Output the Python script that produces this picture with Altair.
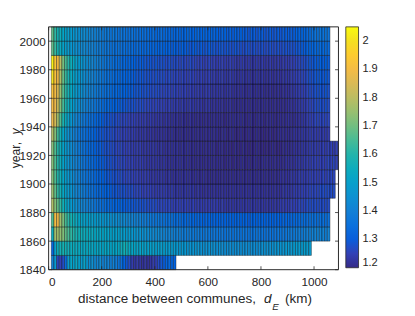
import altair as alt
import pandas as pd

# ---------------- data (values in hundredths) ----------------
YEARS = [1840, 1850, 1860, 1870, 1880, 1890, 1900, 1910, 1920,
         1930, 1940, 1950, 1960, 1970, 1980, 1990, 2000]

R1840 = [140,148,126,125,127,134,148,152,150,153,
         150,148,151,147,144,145,143,142,144,141,
         142,141,140,141,139,137,134,131,129,127,
         124,123,124,123,122,123,122,123,124,125,
         127,129,130,132,133,132,131]
R1850 = [132,150,156,157,158,157,156,155,155,154,
         154,153,153,154,153,153,152,153,152,152,
         153,152,152,152,152,153,155,157,156,153,
         152,152,151,151,151,150,150,150,150,149,
         149,149,149,148,148,148,148,147,147,147,
         147,146,146,146,146,146,145,145,145,145,
         145,145,144,145,144,144,144,144,144,144,
         144,144,144,144,144,144,144,144,144,145,
         145,145,145,145,146,146,146,146,147,147,
         147,148,148,148,148,149,148,148]
R1860 = [155,176,176,174,172,168,165,162,160,158,
         157,156,155,155,154,154,153,153,152,152,
         152,151,151,150,150,150,149,149,148,148,
         147,147,146,146,145,145,144,144,143,143,
         143,142,142,141,141,141,140,140,140,139,
         139,139,139,138,138,138,138,137,138,137,
         137,137,137,137,137,136,137,137,136,137,
         136,136,137,136,136,136,136,137,136,136,
         136,136,136,136,136,137,137,137,137,138,
         138,138,139,139,139,140,140,140,141,141,
         141,141,141,140,141]
R1870 = [166,190,188,176,171,165,161,158,156,154,
         152,151,150,150,149,149,148,148,147,147,
         146,146,145,145,144,144,143,143,142,142,
         141,141,140,140,139,139,138,138,137,137,
         137,136,136,135,135,135,134,134,134,133,
         133,133,133,132,132,132,132,131,132,131,
         131,131,131,131,131,131,131,131,131,131,
         131,131,131,131,130,131,131,131,131,131,
         131,131,131,131,131,131,131,132,132,132,
         132,133,133,133,134,134,134,135,135,135,
         135,135,135,135,135]
R1880 = [178,172,168,162,157,153,150,148,146,145,
         143,142,141,140,139,138,137,136,135,135,
         134,133,133,132,132,131,131,130,130,130,
         129,129,129,128,128,128,127,127,127,127,
         126,126,126,126,126,125,125,125,125,125,
         125,125,124,125,124,124,124,124,124,124,
         124,124,124,123,124,123,123,123,123,123,
         123,123,123,123,123,123,123,123,123,123,
         123,123,123,123,123,123,124,124,124,124,
         125,125,125,126,126,126,127,127,127,127,
         127,127,127,127,127]
R1890 = [175,168,162,157,153,150,148,146,144,142,
         141,140,138,137,136,135,134,133,133,132,
         131,131,130,129,129,128,128,128,127,127,
         127,126,126,126,125,125,125,125,124,124,
         124,124,124,124,123,124,123,123,123,123,
         123,123,123,123,122,123,122,122,122,122,
         122,122,122,122,122,122,122,122,122,122,
         122,122,122,122,122,122,122,122,122,122,
         122,122,122,122,122,122,122,123,123,123,
         123,124,124,124,125,125,125,126,126,126,
         126,127,127,127,127,127,127]
R1900 = [172,166,160,156,152,149,147,145,143,141,
         140,138,137,136,135,134,133,132,131,131,
         130,129,129,128,128,127,127,126,126,126,
         125,125,125,124,124,124,124,123,123,123,
         123,123,123,122,123,122,122,122,122,122,
         122,122,122,121,122,121,121,122,121,121,
         121,121,121,121,121,121,121,121,121,121,
         121,121,121,121,121,121,121,121,121,121,
         121,121,121,121,121,121,122,122,122,122,
         123,123,123,124,124,124,124,125,125,125,
         125,125,126,125,126,126,126]
R1910 = [172,166,160,155,151,148,146,144,142,141,
         139,138,136,135,134,133,132,131,130,130,
         129,128,128,127,127,126,126,126,125,125,
         125,124,124,124,124,123,123,123,123,123,
         123,122,123,122,122,122,122,122,122,122,
         121,122,121,121,121,121,121,121,121,121,
         121,121,121,121,121,120,121,121,120,121,
         120,121,121,120,121,120,121,121,120,121,
         121,121,121,121,121,121,121,121,122,122,
         122,122,123,123,123,124,124,124,125,125,
         125,125,125,125,126,125,126,125]
R1920 = [172,166,160,155,151,148,146,144,142,140,
         138,137,135,134,133,132,131,130,130,129,
         128,128,127,127,126,126,126,125,125,125,
         124,124,124,124,123,123,123,123,123,123,
         122,123,122,122,122,122,122,122,121,122,
         121,122,121,121,121,121,121,121,121,121,
         121,121,120,121,121,120,121,120,120,121,
         120,120,121,120,120,120,120,121,120,120,
         120,120,120,121,120,120,120,121,121,121,
         121,122,122,122,123,123,123,124,124,124,
         124,124,125,124,125,125,124,125]
R1930 = [178,172,164,157,152,148,145,143,141,139,
         137,136,135,134,133,132,131,130,129,129,
         128,128,127,127,126,126,125,125,125,124,
         124,124,123,123,123,123,122,123,122,122,
         122,122,122,122,121,122,121,121,121,121,
         121,121,121,121,121,121,121,121,121,121,
         121,121,121,120,121,121,120,121,121,120,
         120,121,120,120,121,120,120,121,120,120,
         120,120,121,120,120,121,121,121,121,121,
         121,122,122,122,123,123,123,124,124,124,
         124,124,124,124,124]
R1940 = [188,184,176,166,159,154,150,147,144,142,
         140,139,137,136,135,134,133,132,131,130,
         129,129,128,128,127,127,126,126,126,125,
         125,125,124,124,124,124,123,124,123,123,
         123,123,122,123,122,122,122,122,121,122,
         121,121,122,121,121,121,121,121,121,121,
         121,121,121,121,121,120,121,121,121,121,
         121,121,121,120,121,121,120,121,121,121,
         120,121,121,121,120,121,121,121,121,122,
         121,121,122,122,123,123,124,125,125,126,
         126,126,126,126,126]
R1950 = [190,188,182,172,165,159,155,151,148,146,
         144,143,141,140,139,138,137,136,135,134,
         133,133,132,131,131,130,130,129,129,128,
         128,128,127,127,127,126,126,126,125,126,
         125,125,125,124,125,124,124,124,123,124,
         123,123,124,123,123,123,123,122,123,123,
         122,122,122,122,122,121,122,122,121,121,
         121,121,121,121,121,121,121,121,121,121,
         121,121,121,121,121,121,121,121,121,122,
         122,122,123,123,124,124,125,126,126,127,
         127,128,127,128,127]
R1960 = [192,190,185,175,167,161,157,153,150,148,
         146,145,143,142,141,140,139,138,137,136,
         135,135,134,133,133,132,132,131,131,130,
         130,129,129,129,128,128,128,127,127,127,
         127,126,126,126,126,125,126,125,125,125,
         125,124,125,124,124,124,124,123,124,124,
         123,123,123,123,123,122,123,123,122,122,
         122,122,122,121,122,122,121,122,121,122,
         121,121,122,121,121,122,121,122,122,122,
         123,123,124,124,125,125,126,127,127,128,
         128,129,128,129,128]
R1970 = [200,192,188,178,169,163,158,154,151,149,
         147,146,144,143,142,141,140,139,138,137,
         136,135,135,134,133,133,132,132,131,131,
         130,130,129,129,129,128,128,128,127,128,
         127,127,127,126,127,126,126,126,125,126,
         125,125,126,125,125,124,125,124,124,125,
         124,124,123,124,124,123,123,124,123,123,
         122,123,123,122,123,122,122,123,122,123,
         122,122,123,122,122,123,122,123,123,123,
         124,124,125,125,126,126,127,128,128,129,
         129,130,129,130,129]
R1980 = [203,193,190,180,171,165,160,156,153,150,
         148,147,145,144,143,142,141,140,139,138,
         137,136,136,135,134,134,133,133,132,132,
         131,131,130,130,130,129,129,129,128,129,
         128,128,128,127,128,127,127,127,126,127,
         126,126,127,126,126,125,126,125,125,126,
         125,125,124,125,125,124,124,125,124,124,
         123,124,124,123,124,123,123,124,123,124,
         123,123,124,123,123,124,123,124,124,124,
         125,125,126,126,127,127,128,129,129,130,
         130,131,130,131,130]
R1990 = [168,163,158,154,151,149,148,147,146,145,
         144,143,143,142,141,141,140,139,139,138,
         137,137,136,136,135,136,135,135,134,134,
         134,133,134,133,133,132,133,132,132,132,
         131,132,131,131,131,130,131,130,130,131,
         130,130,129,130,130,129,130,129,129,130,
         129,129,128,129,129,128,129,128,128,129,
         128,128,127,128,128,127,128,127,127,128,
         127,127,128,127,127,128,127,128,128,128,
         128,128,129,129,130,130,131,132,132,133,
         133,134,133,134,133]
R2000 = [168,162,158,155,152,150,149,148,147,146,
         145,144,144,143,142,141,141,140,139,139,
         138,138,137,138,137,136,137,136,136,135,
         136,135,135,134,135,134,134,133,134,133,
         133,134,133,133,132,133,132,133,132,132,
         132,133,132,131,132,132,131,132,131,131,
         132,131,131,130,131,131,130,131,130,131,
         130,131,130,130,129,130,130,129,130,130,
         129,129,130,129,129,130,129,130,130,130,
         130,130,131,131,132,132,133,134,135,136,
         136,137,136,137,136]

ROWS = [R1840, R1850, R1860, R1870, R1880, R1890, R1900, R1910, R1920,
        R1930, R1940, R1950, R1960, R1970, R1980, R1990, R2000]

X_TICKS = [0, 200, 400, 600, 800, 1000]
Y_TICKS = [1840, 1860, 1880, 1900, 1920, 1940, 1960, 1980, 2000]
CBAR_TICKS = [1.2, 1.3, 1.4, 1.5, 1.6, 1.7, 1.8, 1.9, 2.0]

# parula colormap samples (index out of 63)
PARULA_IDX = [0, 4, 8, 12, 16, 20, 24, 28, 32, 35, 39, 43, 47, 51, 55, 59, 63]
PARULA = ["#352a87", "#3243ba", "#0363e1", "#0d75dc", "#1485d4", "#0998d1",
          "#06a7c6", "#15b1b4", "#38b99e", "#59bd8c", "#87bf77", "#aebe67",
          "#d1bb59", "#f1b94a", "#fec832", "#f5de21", "#f9fb0e"]

BIN_KM = 10
FIRST_KM = 10
DECADE = 10

recs = []
for y0, row in zip(YEARS, ROWS):
    for i, v in enumerate(row):
        d0 = FIRST_KM + BIN_KM * i
        recs.append(dict(d0=d0, d1=d0 + BIN_KM, y0=y0, y1=y0 + DECADE, v=v / 100))
cells = pd.DataFrame(recs)

VMIN, VMAX = 1.2, 2.05
stops = [VMIN + (VMAX - VMIN) * k / 63 for k in PARULA_IDX]

# ---------------- layout / style ----------------
W, H = 296, 248
FONT = "Liberation Sans"
INK = "#262626"

xscale = alt.Scale(domain=[0, 1092], nice=False, zero=False)
yscale = alt.Scale(domain=[1840, 2010], nice=False, zero=False)
xaxis = alt.Axis(values=X_TICKS, title=None, grid=False, domain=False, ticks=False,
                 labelPadding=7, labelFontSize=12, labelFont=FONT, labelColor=INK,
                 format="d")
yaxis = alt.Axis(values=Y_TICKS, title=None, grid=False, domain=False, ticks=False,
                 labelPadding=3.5, labelFontSize=12, labelFont=FONT, labelColor=INK,
                 format="d")

heat = alt.Chart(cells).mark_rect(stroke="black", strokeWidth=0.5, strokeOpacity=0.75).encode(
    x=alt.X("d0:Q", scale=xscale, axis=xaxis),
    x2=alt.X2("d1"),
    y=alt.Y("y0:Q", scale=yscale, axis=yaxis),
    y2=alt.Y2("y1"),
    color=alt.Color(
        "v:Q",
        scale=alt.Scale(domain=stops, range=PARULA, interpolate="rgb"),
        legend=alt.Legend(
            orient="none", legendX=W + 7.5, legendY=0, direction="vertical",
            gradientLength=246, gradientThickness=13, values=CBAR_TICKS,
            format=".1~f", labelFont=FONT, labelFontSize=11.25, labelColor=INK,
            labelOffset=4, title=None, gradientStrokeColor=INK,
            gradientStrokeWidth=0.8, padding=0,
        ),
    ),
)

one = pd.DataFrame({"a": [0]})
frame = alt.Chart(one).mark_rect(fillOpacity=0, stroke=INK, strokeWidth=1).encode(
    x=alt.value(0), x2=alt.value(W), y=alt.value(0), y2=alt.value(H)
)

xt = pd.DataFrame({"t": X_TICKS})
yt = pd.DataFrame({"t": Y_TICKS})
TL = 3.5
tick_b = alt.Chart(xt).mark_rule(color=INK, strokeWidth=0.8).encode(
    x=alt.X("t:Q", scale=xscale, axis=xaxis), y=alt.value(H), y2=alt.value(H - TL))
tick_t = alt.Chart(xt).mark_rule(color=INK, strokeWidth=0.8).encode(
    x=alt.X("t:Q", scale=xscale, axis=xaxis), y=alt.value(0), y2=alt.value(TL))
tick_l = alt.Chart(yt).mark_rule(color=INK, strokeWidth=0.8).encode(
    y=alt.Y("t:Q", scale=yscale, axis=yaxis), x=alt.value(0), x2=alt.value(TL))
tick_r = alt.Chart(yt).mark_rule(color=INK, strokeWidth=0.8).encode(
    y=alt.Y("t:Q", scale=yscale, axis=yaxis), x=alt.value(W), x2=alt.value(W - TL))


def txt(s, x, y, size, style="normal", angle=0):
    return alt.Chart(pd.DataFrame({"s": [s]})).mark_text(
        align="left", baseline="alphabetic", font=FONT, fontSize=size,
        fontStyle=style, color=INK, angle=angle,
    ).encode(x=alt.value(x), y=alt.value(y), text="s:N")


TS = 13.75
YS = 12.5
titles = [
    txt("distance between communes,", 30, 282.5, TS),
    txt("d", 220, 282.5, TS, "italic"),
    txt("E", 228.5, 289, 10, "italic"),
    txt("(km)", 241.5, 282.5, TS),
    txt("year,", -29.5, 144.5, YS, angle=270),
    txt("y", -29.5, 109.8, YS, "italic", angle=270),
]

chart = alt.layer(heat, frame, tick_b, tick_t, tick_l, tick_r, *titles).properties(
    width=W, height=H,
    padding={"left": 41.5, "top": 16, "right": 70, "bottom": 43},
    autosize=alt.AutoSizeParams(type="none"),
).configure_view(strokeWidth=0)

chart.save("out.html", embed_options={"renderer": "svg", "actions": False})
